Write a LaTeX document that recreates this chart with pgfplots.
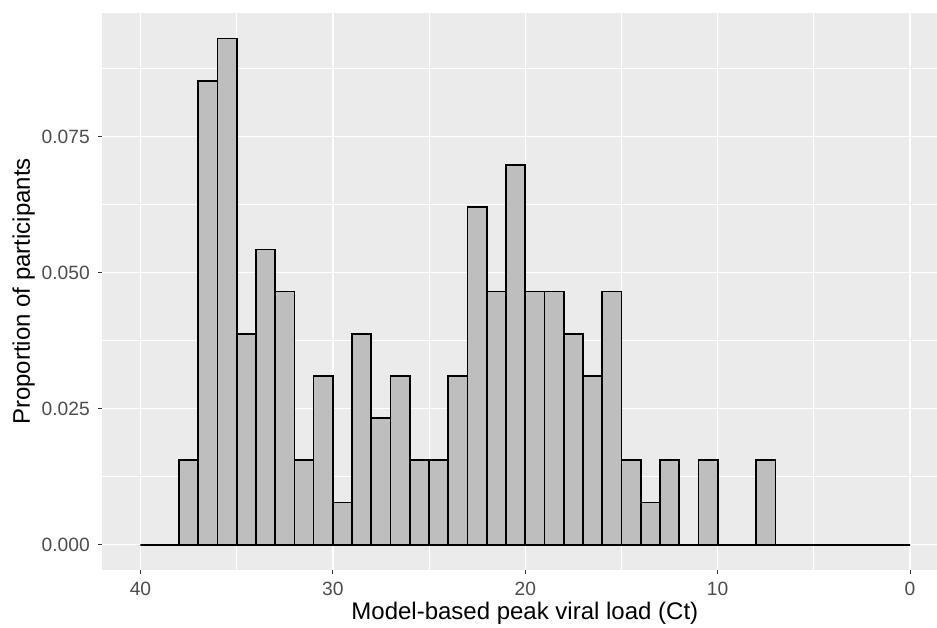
\documentclass[border=0pt]{standalone}
\usepackage{fontspec}
\setmainfont{Liberation Sans}
\usepackage{pgfplots}
\pgfplotsset{compat=1.18}
\definecolor{panel}{HTML}{EBEBEB}
\definecolor{barfill}{HTML}{BEBEBE}
\definecolor{ticklab}{HTML}{4D4D4D}
\definecolor{tickcol}{HTML}{333333}
\pgfplotstableread{
x y
0 0
1 0
2 0
3 0
4 0
5 0
6 0
7 0.0155
8 0
9 0
10 0.0155
11 0
12 0.0155
13 0.00775
14 0.0155
15 0.04651
16 0.0310
17 0.03876
18 0.04651
19 0.04651
20 0.06977
21 0.04651
22 0.06202
23 0.0310
24 0.0155
25 0.0155
26 0.0310
27 0.02326
28 0.03876
29 0.00775
30 0.0310
31 0.0155
32 0.04651
33 0.05426
34 0.03876
35 0.09302
36 0.08527
37 0.0155
38 0
39 0
40 0
}\hist
\begin{document}
\begin{tikzpicture}
\begin{axis}[name=ax, scale only axis, width=626.25pt, height=417.75pt,
  x dir=reverse, xmin=-1.4, xmax=42, ymin=-0.00465, ymax=0.0977,
  axis background/.style={fill=panel}, axis line style={draw=none},
  grid=both, major grid style={white, line width=1.1pt}, minor grid style={white, line width=0.55pt},
  xtick={0,10,20,30,40}, minor xtick={5,15,25,35},
  ytick={0,0.025,0.05,0.075}, minor ytick={0.0125,0.0375,0.0625,0.0875},
  tick pos=left, tick align=outside, major tick length=3pt, minor tick length=0pt,
  tick style={tickcol, line width=0.8pt},
  scaled y ticks=false,
  yticklabel style={/pgf/number format/fixed, /pgf/number format/fixed zerofill, /pgf/number format/precision=3},
  /pgf/number format/assume math mode=true,
  ticklabel style={text=ticklab, font=\fontsize{14.4}{14.4}\selectfont, inner sep=0pt},
  xticklabel style={anchor=north, yshift=-6pt},
  yticklabel style={anchor=east, xshift=-6pt},
  clip=true,
]
\addplot[ybar interval, fill=barfill, draw=none] table[x=x, y=y] {\hist};
\addplot[ybar interval, fill=none, draw=black, line width=1.3pt, line join=miter] table[x=x, y=y] {\hist};
\end{axis}
\node[anchor=base, font=\fontsize{18}{18}\selectfont] at ([xshift=4pt, yshift=-37.5pt]ax.south) {Model-based peak viral load (Ct)};
\node[anchor=base, rotate=90, font=\fontsize{18}{18}\selectfont] at ([xshift=-54pt]ax.west) {Proportion of participants};
\pgfresetboundingbox
\path[use as bounding box] ([xshift=-76.5pt, yshift=-43.5pt]ax.south west) rectangle ([yshift=9.75pt]ax.north east);
\end{tikzpicture}
\end{document}
